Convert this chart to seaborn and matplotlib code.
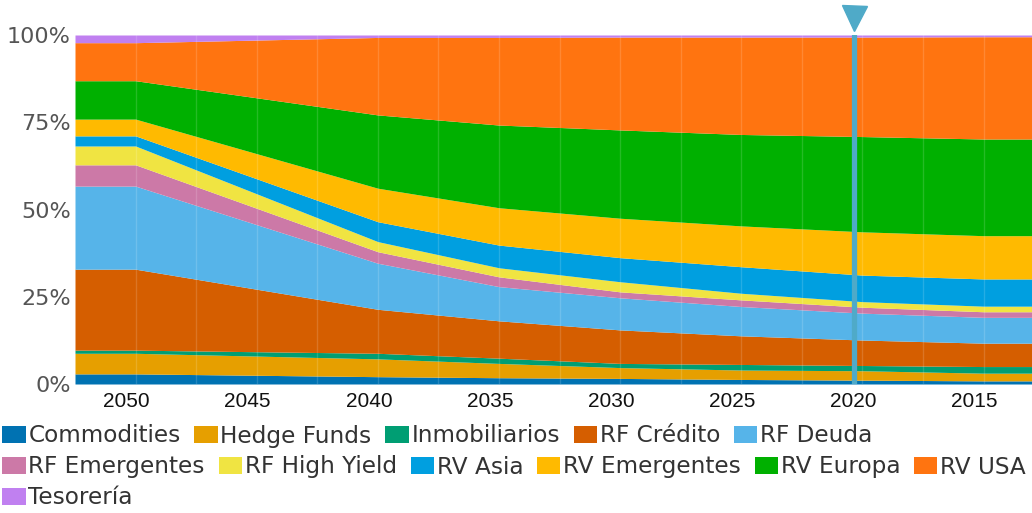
import numpy as np
import pandas as pd
import matplotlib
matplotlib.use("Agg")
import matplotlib.pyplot as plt
import matplotlib.transforms as mtransforms
from matplotlib.patches import Patch
from matplotlib.ticker import FuncFormatter, MultipleLocator
import seaborn as sns

years = [2052.5, 2050, 2040, 2035, 2030, 2025, 2020, 2015, 2013]

commodities   = [2.9, 2.9, 2.1, 1.8, 1.6, 1.3, 1.1, 0.9, 0.9]
hedge_funds   = [5.9, 5.9, 5.1, 4.1, 3.1, 2.7, 2.7, 2.2, 2.2]
inmobiliarios = [0.9, 0.9, 1.6, 1.5, 1.2, 1.6, 1.5, 1.9, 1.9]
rf_credito    = [23.2, 23.2, 12.6, 10.7, 9.6, 8.2, 7.3, 6.7, 6.7]
rf_deuda      = [23.8, 23.8, 13.2, 9.8, 9.2, 8.4, 7.7, 7.4, 7.4]
rf_emergentes = [6.1, 6.1, 3.3, 2.8, 1.7, 1.9, 1.7, 1.6, 1.6]
rf_high_yield = [5.4, 5.4, 2.9, 2.6, 2.9, 1.9, 1.6, 1.6, 1.6]
rv_asia       = [2.9, 2.9, 5.7, 6.5, 6.9, 7.6, 7.6, 7.8, 7.8]
rv_emergentes = [4.8, 4.8, 9.6, 10.7, 11.3, 11.7, 12.4, 12.4, 12.4]
rv_europa     = [11.0, 11.0, 21.0, 23.7, 25.3, 26.2, 27.3, 27.7, 27.7]
rv_usa        = [10.9, 10.9, 22.2, 25.1, 26.6, 27.9, 28.5, 29.3, 29.3]
tesoreria     = [2.2, 2.2, 0.7, 0.7, 0.6, 0.6, 0.6, 0.5, 0.5]

series_names = ["Commodities", "Hedge Funds", "Inmobiliarios", "RF Crédito", "RF Deuda",
                "RF Emergentes", "RF High Yield", "RV Asia", "RV Emergentes", "RV Europa",
                "RV USA", "Tesorería"]
series_vals = [commodities, hedge_funds, inmobiliarios, rf_credito, rf_deuda, rf_emergentes,
               rf_high_yield, rv_asia, rv_emergentes, rv_europa, rv_usa, tesoreria]
colors = ["#0072B2", "#E69F00", "#009E73", "#D55E00", "#56B4E9", "#CC79A7",
          "#F0E442", "#009FE0", "#FFBA00", "#00B000", "#FF7410", "#C080F0"]

tick_years = [2050, 2045, 2040, 2035, 2030, 2025, 2020, 2015]
current_year = 2020.35

df = pd.DataFrame(dict(zip(series_names, series_vals)), index=years)
df = df.div(df.sum(axis=1), axis=0)

sns.set_theme(style="white")
plt.rcParams['font.family'] = ['DejaVu Sans']

fig = plt.figure(figsize=(10.32, 5.13), dpi=100)
ax = fig.add_axes([75/1032, 1 - 384/513, 1 - 75/1032, 349/513])

ax.stackplot(df.index.values, *[df[c].values for c in series_names],
             colors=colors, linewidth=0, antialiased=True)

ax.set_xlim(2052.5, 2013)
ax.set_ylim(0, 1)
ax.set_xticks(tick_years)
ax.set_xticklabels([])
shift = mtransforms.ScaledTranslation(-9/100, -8/100, fig.dpi_scale_trans)
for y in tick_years:
    ax.text(y, 0, str(y), transform=ax.get_xaxis_transform() + shift,
            ha="center", va="top", fontsize=15, color="#111111",
            family=["Liberation Sans", "DejaVu Sans"])
ax.yaxis.set_major_locator(MultipleLocator(0.25))
ax.yaxis.set_major_formatter(FuncFormatter(lambda v, p: f"{int(round(v*100))}%"))
ax.tick_params(axis="y", labelsize=16, labelcolor="#555555", length=0, pad=3)
ax.tick_params(axis="x", length=0, pad=6)
for xv in np.arange(2050, 2012, -2.5):
    ax.axvline(xv, color="white", alpha=0.15, lw=1, zorder=3)
for s in ax.spines.values():
    s.set_visible(False)

ax.axvline(current_year, color="#4FAAC8", lw=3.8, zorder=5)
ax.plot([current_year], [1.05], marker="v", ms=18, color="#4FAAC8",
        transform=ax.get_xaxis_transform(), clip_on=False, zorder=6)

rows = [series_names[0:5], series_names[5:11], series_names[11:12]]
row_y = [436, 467, 498]
for names, yy in zip(rows, row_y):
    handles = [Patch(facecolor=colors[series_names.index(n)], edgecolor="none") for n in names]
    fig.legend(handles, names, loc="center left", bbox_to_anchor=(0.0, 1 - yy/513),
               ncol=len(names), frameon=False, fontsize=16.7, handlelength=1.0,
               handleheight=0.8, handletextpad=0.12, columnspacing=0.6,
               borderaxespad=0, borderpad=0.1, labelcolor="#333333")

fig.savefig("out.png", dpi=100)
